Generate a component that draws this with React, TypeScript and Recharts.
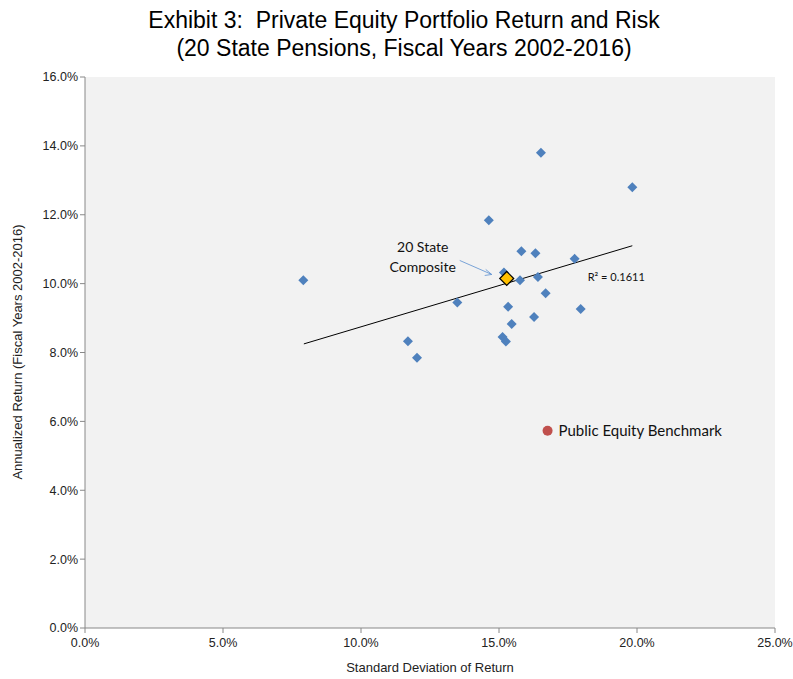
import React from "react";
import { ScatterChart, Scatter, XAxis, YAxis, ReferenceArea } from "recharts";

// state pensions: std dev of return (%) vs annualized return (%)
const pensionRisk = [16.52, 19.83, 14.63, 15.81, 16.32, 17.74, 7.91, 15.18, 15.76, 16.41, 16.69, 13.49, 15.33, 17.96, 16.27, 15.46, 11.7, 15.13, 15.25, 12.03];
const pensionReturn = [13.8, 12.8, 11.84, 10.94, 10.88, 10.72, 10.1, 10.32, 10.1, 10.19, 9.72, 9.45, 9.33, 9.26, 9.03, 8.83, 8.33, 8.45, 8.32, 7.85];

const composite = [{ x: 15.28, y: 10.15 }];
const benchmark = [{ x: 16.76, y: 5.73 }];
const trendLine = [
  { x: 7.93, y: 8.25 },
  { x: 19.83, y: 11.1 },
];

const xTicks = [0, 5, 10, 15, 20, 25];
const yTicks = [0, 2, 4, 6, 8, 10, 12, 14, 16];

const pensions = pensionRisk.map((x, i) => ({ x, y: pensionReturn[i] }));

const labelFont = "Lato, 'Open Sans', sans-serif";
const axisFont = "'Liberation Sans', Arial, sans-serif";

const Diamond = (props: any) => {
  const { cx, cy } = props;
  const r = 5;
  return <polygon points={`${cx},${cy - r} ${cx + r},${cy} ${cx},${cy + r} ${cx - r},${cy}`} fill="#4f81bd" />;
};

const CompositeMark = (props: any) => {
  const { cx, cy } = props;
  const r = 7;
  return (
    <g>
      <polygon points={`${cx},${cy - r} ${cx + r},${cy} ${cx},${cy + r} ${cx - r},${cy}`} fill="#ffc000" stroke="#000" strokeWidth={1.2} />
      {/* annotation text + arrow */}
      <text x={cx - 84} y={cy - 26} textAnchor="middle" fontFamily={labelFont} fontSize={14} fill="#111">20 State</text>
      <text x={cx - 84} y={cy - 6} textAnchor="middle" fontFamily={labelFont} fontSize={14} fill="#111">Composite</text>
      <line x1={cx - 47} y1={cy - 18} x2={cx - 15} y2={cy - 4} stroke="#5b8fd0" strokeWidth={0.8} />
      <polyline points={`${cx - 21},${cy - 9} ${cx - 15},${cy - 4} ${cx - 22},${cy - 3}`} fill="none" stroke="#5b8fd0" strokeWidth={0.8} />
      <text x={cx + 81} y={cy + 3} fontFamily={labelFont} fontSize={11} fill="#111">R² = 0.1611</text>
    </g>
  );
};

const BenchmarkMark = (props: any) => {
  const { cx, cy } = props;
  return (
    <g>
      <circle cx={cx} cy={cy} r={5} fill="#c0504d" />
      <text x={cx + 11} y={cy + 5} fontFamily={labelFont} fontSize={15} fill="#111">Public Equity Benchmark</text>
    </g>
  );
};

const NoShape = () => <g />;

const pct = (v: number) => `${v.toFixed(1)}%`;

export default function App() {
  return (
    <div style={{ position: "absolute", left: 0, top: 0, width: 793, height: 679, background: "#fff" }}>
      <div
        style={{
          position: "absolute",
          left: 0,
          top: 6,
          width: 808,
          textAlign: "center",
          fontFamily: axisFont,
          fontSize: 23,
          lineHeight: "28px",
          color: "#000",
        }}
      >
        Exhibit 3:&nbsp; Private Equity Portfolio Return and Risk
        <br />
        (20 State Pensions, Fiscal Years 2002-2016)
      </div>
      <div
        style={{
          position: "absolute",
          left: 85,
          width: 690,
          top: 660,
          textAlign: "center",
          fontFamily: axisFont,
          fontSize: 13,
          color: "#222",
        }}
      >
        Standard Deviation of Return
      </div>
      <div
        style={{
          position: "absolute",
          left: 17,
          top: 352,
          transform: "translate(-50%, -50%) rotate(-90deg)",
          whiteSpace: "nowrap",
          fontFamily: axisFont,
          fontSize: 13,
          color: "#222",
        }}
      >
        Annualized Return (Fiscal Years 2002-2016)
      </div>
      <ScatterChart width={793} height={679} margin={{ top: 77, right: 18, bottom: 21, left: 25 }}>
        <ReferenceArea x1={0} x2={25} y1={0} y2={16} fill="#f2f2f2" fillOpacity={1} stroke="none" />
        <XAxis
          type="number"
          dataKey="x"
          domain={[0, 25]}
          ticks={xTicks}
          tickFormatter={pct}
          height={30}
          stroke="#888"
          tickSize={5}
          tickMargin={5}
          tick={{ fontFamily: axisFont, fontSize: 12.5, fill: "#222" }}
          interval={0}
        />
        <YAxis
          type="number"
          dataKey="y"
          domain={[0, 16]}
          ticks={yTicks}
          tickFormatter={pct}
          width={60}
          stroke="#888"
          tickSize={5}
          tick={{ fontFamily: axisFont, fontSize: 12.5, fill: "#222" }}
          interval={0}
        />
        <Scatter data={trendLine} line={{ stroke: "#000", strokeWidth: 1 }} shape={NoShape} isAnimationActive={false} />
        <Scatter data={pensions} shape={Diamond} isAnimationActive={false} />
        <Scatter data={composite} shape={CompositeMark} isAnimationActive={false} />
        <Scatter data={benchmark} shape={BenchmarkMark} isAnimationActive={false} />
      </ScatterChart>
    </div>
  );
}
